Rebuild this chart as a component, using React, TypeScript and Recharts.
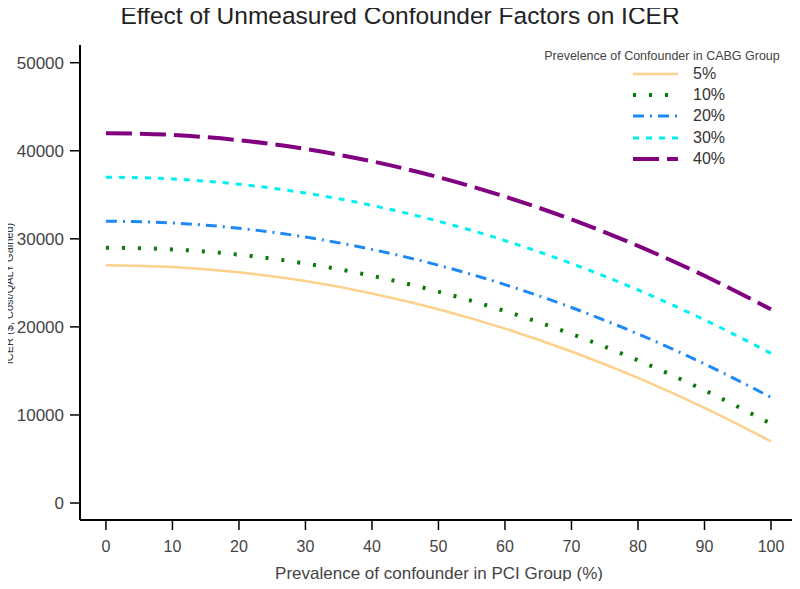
import { LineChart, Line, XAxis, YAxis } from 'recharts';

const pciPrevalence = [0, 10, 20, 30, 40, 50, 60, 70, 80, 90, 100];
const icer5 = [27000, 26800, 26200, 25200, 23800, 22000, 19800, 17200, 14200, 10800, 7000];
const icer10 = [29000, 28800, 28200, 27200, 25800, 24000, 21800, 19200, 16200, 12800, 9000];
const icer20 = [32000, 31800, 31200, 30200, 28800, 27000, 24800, 22200, 19200, 15800, 12000];
const icer30 = [37000, 36800, 36200, 35200, 33800, 32000, 29800, 27200, 24200, 20800, 17000];
const icer40 = [42000, 41800, 41200, 40200, 38800, 37000, 34800, 32200, 29200, 25800, 22000];

const xTicks = [0, 10, 20, 30, 40, 50, 60, 70, 80, 90, 100];
const yTicks = [0, 10000, 20000, 30000, 40000, 50000];

const seriesList = [
  { key: 'p5', name: '5%', color: '#FDD08C', width: 2.5, dash: undefined as string | undefined },
  { key: 'p10', name: '10%', color: '#0B7A0B', width: 4, dash: '3 13' },
  { key: 'p20', name: '20%', color: '#1E88F5', width: 3, dash: '11 6 2 6' },
  { key: 'p30', name: '30%', color: '#00F0F0', width: 3, dash: '6 7' },
  { key: 'p40', name: '40%', color: '#800080', width: 4, dash: '26 8' },
];

const data = pciPrevalence.map((x, i) => ({
  x,
  p5: icer5[i],
  p10: icer10[i],
  p20: icer20[i],
  p30: icer30[i],
  p40: icer40[i],
}));

const font = '"Liberation Sans", Arial, sans-serif';

function LegendBox() {
  return (
    <div style={{ position: 'absolute', left: 532, top: 49, width: 260, fontFamily: font, color: '#333' }}>
      <div style={{ height: 14, lineHeight: '14px', fontSize: 12.5, textAlign: 'center', color: '#444' }}>
        Prevelence of Confounder in CABG Group
      </div>
      {seriesList.map((s) => (
        <div key={s.key} style={{ height: 21.3, display: 'flex', alignItems: 'center' }}>
          <svg width={45} height={10} style={{ marginLeft: 101 }}>
            <line
              x1={0}
              y1={5}
              x2={45}
              y2={5}
              stroke={s.color}
              strokeWidth={s.width}
              strokeDasharray={s.dash}
            />
          </svg>
          <span style={{ marginLeft: 15, fontSize: 16 }}>{s.name}</span>
        </div>
      ))}
    </div>
  );
}

function YTitle(props: any) {
  const vb = props.viewBox;
  const cx = vb.x;
  const cy = vb.y + vb.height / 2 + 11;
  return (
    <text
      x={cx}
      y={cy}
      transform={`rotate(-90 ${cx} ${cy})`}
      textAnchor="middle"
      dominantBaseline="central"
      fontSize={11}
      fill="#333"
      fontFamily={font}
    >
      ICER ($, Cost/QALY Gained)
    </text>
  );
}

export default function App() {
  return (
    <div style={{ position: 'relative', width: 784, height: 573 }}>
      <div style={{ position: 'absolute', left: -8, top: -8, width: 800, height: 589 }}>
        <LineChart width={800} height={589} data={data} margin={{ top: 45, right: 2, left: 9, bottom: 0 }}>
          <XAxis
            dataKey="x"
            type="number"
            domain={[-3.9, 104.06]}
            ticks={xTicks}
            tickSize={10}
            tickMargin={11}
            height={69}
            axisLine={{ stroke: '#000', strokeWidth: 2 }}
            tickLine={{ stroke: '#000', strokeWidth: 1.5 }}
            tick={{ fill: '#444', fontSize: 16, fontFamily: font }}
            label={{
              value: 'Prevalence of confounder in PCI Group (%)',
              position: 'insideBottom',
              offset: 10,
              fill: '#444',
              fontSize: 17,
              fontFamily: font,
            }}
          />
          <YAxis
            type="number"
            domain={[-1930, 52010]}
            ticks={yTicks}
            width={71}
            tickSize={10}
            tickMargin={6}
            axisLine={{ stroke: '#000', strokeWidth: 2 }}
            tickLine={{ stroke: '#000', strokeWidth: 1.5 }}
            tick={{ fill: '#444', fontSize: 17, fontFamily: font }}
            label={<YTitle />}
          />
          {seriesList.map((s) => (
            <Line
              key={s.key}
              dataKey={s.key}
              name={s.name}
              type="monotone"
              stroke={s.color}
              strokeWidth={s.width}
              strokeDasharray={s.dash}
              dot={false}
              isAnimationActive={false}
            />
          ))}
        </LineChart>
        <div
          style={{
            position: 'absolute',
            left: 0,
            width: 800,
            top: 3,
            textAlign: 'center',
            fontFamily: font,
            fontSize: 24.5,
            lineHeight: '26px',
            color: '#222',
          }}
        >
          Effect of Unmeasured Confounder Factors on ICER
        </div>
        <LegendBox />
      </div>
    </div>
  );
}
